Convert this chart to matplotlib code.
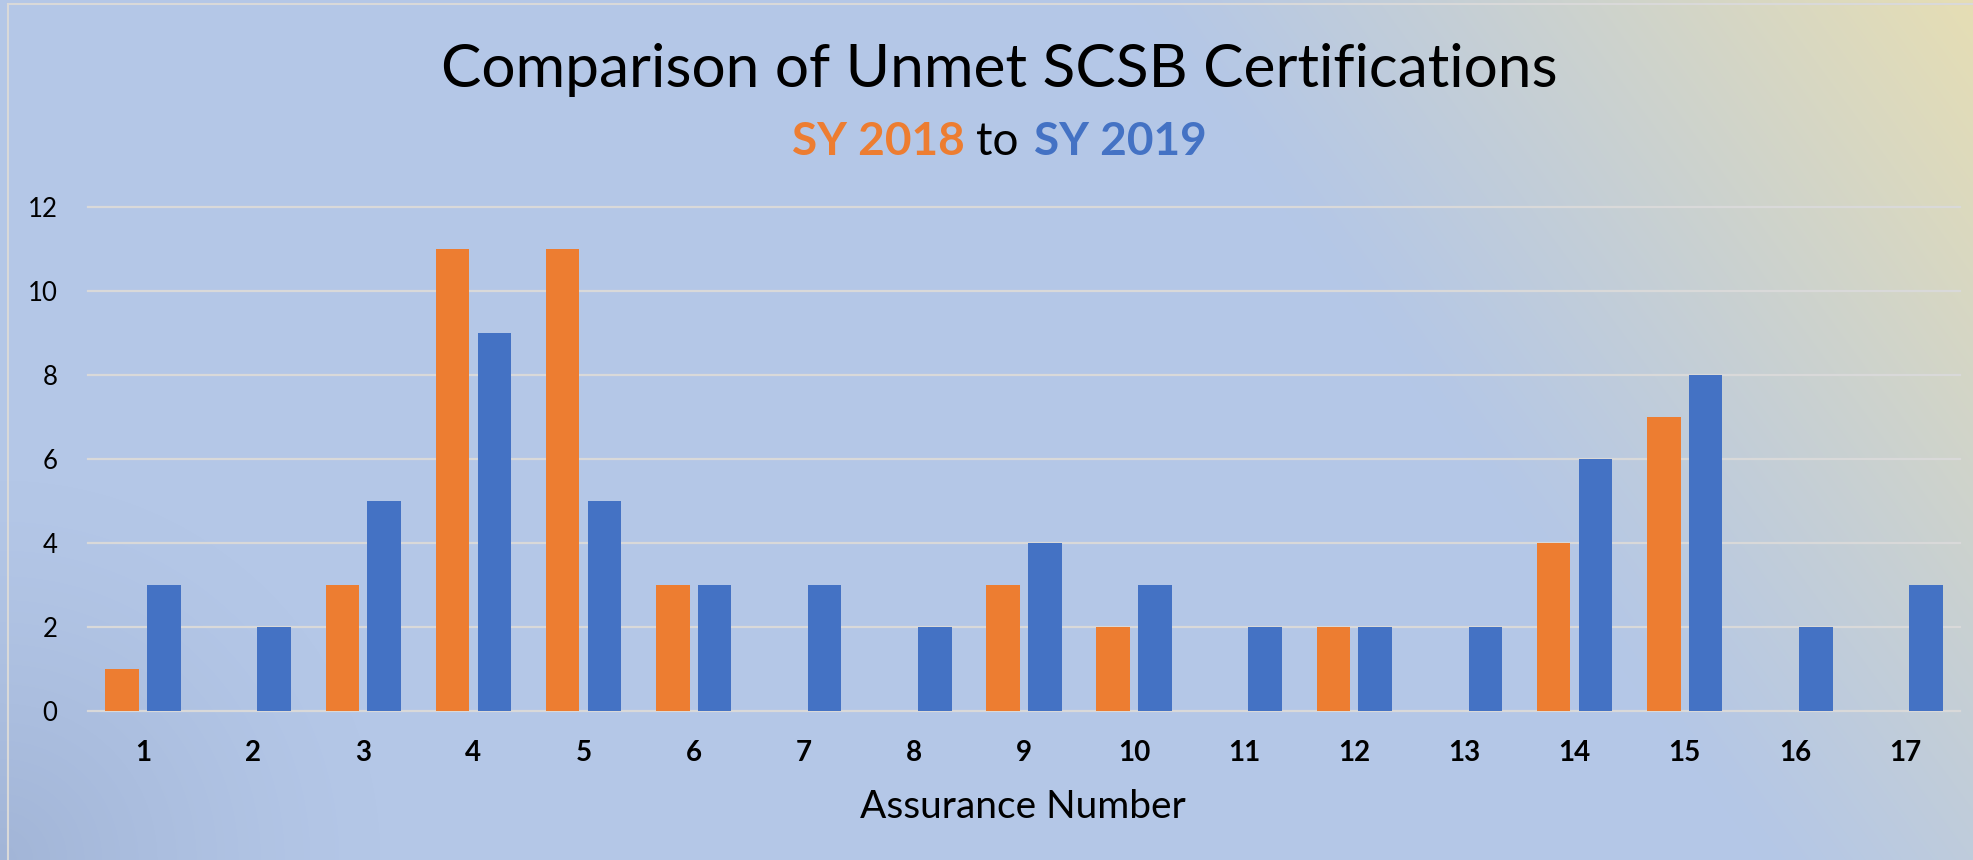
import numpy as np
import matplotlib
matplotlib.use("Agg")
import matplotlib.pyplot as plt
from matplotlib.lines import Line2D

# ---- data ----
assurance = list(range(1, 18))
sy2018 = [1, 0, 3, 11, 11, 3, 0, 0, 3, 2, 0, 2, 0, 4, 7, 0, 0]
sy2019 = [3, 2, 5, 9, 5, 3, 3, 2, 4, 3, 2, 2, 2, 6, 8, 2, 3]
yticks = [0, 2, 4, 6, 8, 10, 12]
title = "Comparison of Unmet SCSB Certifications"
xlabel = "Assurance Number"

ORANGE = "#ED7D31"
BLUE = "#4472C4"
FONT = "Lato"

W, H = 1973, 860
fig = plt.figure(figsize=(W / 100, H / 100), dpi=100)

# ---- background gradient ----
yy, xx = np.mgrid[0:H, 0:W].astype(float)
base = np.array([180, 199, 231]) / 255
yel = np.array([230, 222, 180]) / 255
dark = np.array([162, 181, 215]) / 255
t = np.clip((xx - 1130) / 843 - yy / 1147, 0, 1)
t = t ** 1.1
img = base[None, None, :] * (1 - t[..., None]) + yel[None, None, :] * t[..., None]
r = np.sqrt(xx ** 2 + (H - yy) ** 2)
s = np.clip(1 - r / 380, 0, 1) ** 1.3
img = img * (1 - s[..., None]) + dark[None, None, :] * s[..., None]
bg = fig.add_axes([0, 0, 1, 1], zorder=-10)
bg.imshow(img, aspect="auto", extent=[0, 1, 0, 1], origin="upper", interpolation="bilinear")
bg.set_axis_off()

# frame border lines
fig.add_artist(Line2D([8 / W, 8 / W], [0, 1 - 4 / H], color="#D9D9D9", lw=1.5))
fig.add_artist(Line2D([8 / W, 1], [1 - 4 / H, 1 - 4 / H], color="#D9D9D9", lw=1.5))

# ---- main axes ----
left, right, top, bottom = 88, 1960, 207, 711
ax = fig.add_axes([left / W, 1 - bottom / H, (right - left) / W, (bottom - top) / H])
ax.patch.set_alpha(0)
x = np.array(assurance)
ax.bar(x - 0.19, sy2018, width=0.305, color=ORANGE, zorder=3)
ax.bar(x + 0.19, sy2019, width=0.305, color=BLUE, zorder=3)
ax.set_xlim(0.5, 17.5)
ax.set_ylim(0, 12)
ax.set_yticks(yticks)
ax.set_xticks(assurance)
ax.set_xticklabels([str(a) for a in assurance], fontweight="bold", fontsize=20, family=FONT)
ax.set_yticklabels([str(v) for v in yticks], fontsize=18.5, family=FONT)
ax.tick_params(axis="both", length=0, colors="black")
ax.tick_params(axis="y", pad=22)
ax.tick_params(axis="x", pad=21)
for sp in ax.spines.values():
    sp.set_visible(False)
ax.yaxis.grid(True, color="#D9D9D9", lw=1.6)
ax.set_axisbelow(True)
for gl in ax.get_ygridlines():
    gl.set_clip_on(False)

# ---- texts ----
renderer = fig.canvas.get_renderer()


def fit(txt, target):
    bb = txt.get_window_extent(renderer)
    txt.set_fontsize(txt.get_fontsize() * target / bb.width)


tt = fig.text(999 / W, 1 - 87 / H, title, ha="center", va="baseline",
              fontsize=40, family=FONT, color="black")
fit(tt, 1117)

s1 = fig.text(792 / W, 1 - 155 / H, "SY 2018", ha="left", va="baseline",
              fontsize=30, family=FONT, fontweight="bold", color=ORANGE)
fit(s1, 173)
fs = s1.get_fontsize()
s2 = fig.text(976 / W, 1 - 155 / H, "to", ha="left", va="baseline",
              fontsize=fs, family=FONT, color="black")
s3 = fig.text(1034 / W, 1 - 155 / H, "SY 2019", ha="left", va="baseline",
              fontsize=fs, family=FONT, fontweight="bold", color=BLUE)

xl = fig.text(1023 / W, 1 - 818 / H, xlabel, ha="center", va="baseline",
              fontsize=22, family=FONT, color="black")
fit(xl, 325)

fig.savefig("out.png", dpi=100)
